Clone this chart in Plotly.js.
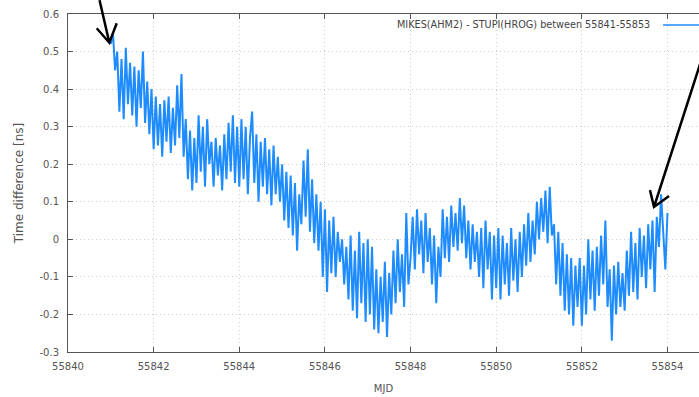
<!DOCTYPE html>
<html>
<head>
<meta charset="utf-8">
<script src="https://cdn.plot.ly/plotly-3.0.1.min.js"></script>
<style>html,body{margin:0;padding:0;background:#fff;}#chart{width:699px;height:397px;}</style>
</head>
<body>
<div id="chart"></div>
<script>
// Time axis (MJD)
const mjd = [
55841.00,55841.05,55841.10,55841.15,55841.20,55841.25,55841.30,55841.35,55841.40,55841.45,55841.50,55841.55,55841.60,55841.65,55841.70,55841.75,55841.80,55841.85,55841.90,55841.95,
55842.00,55842.05,55842.10,55842.15,55842.20,55842.25,55842.30,55842.35,55842.40,55842.45,55842.50,55842.55,55842.60,55842.65,55842.70,55842.75,55842.80,55842.85,55842.90,55842.95,
55843.00,55843.05,55843.10,55843.15,55843.20,55843.25,55843.30,55843.35,55843.40,55843.45,55843.50,55843.55,55843.60,55843.65,55843.70,55843.75,55843.80,55843.85,55843.90,55843.95,
55844.00,55844.05,55844.10,55844.15,55844.20,55844.25,55844.30,55844.35,55844.40,55844.45,55844.50,55844.55,55844.60,55844.65,55844.70,55844.75,55844.80,55844.85,55844.90,55844.95,
55845.00,55845.05,55845.10,55845.15,55845.20,55845.25,55845.30,55845.35,55845.40,55845.45,55845.50,55845.55,55845.60,55845.65,55845.70,55845.75,55845.80,55845.85,55845.90,55845.95,
55846.00,55846.05,55846.10,55846.15,55846.20,55846.25,55846.30,55846.35,55846.40,55846.45,55846.50,55846.55,55846.60,55846.65,55846.70,55846.75,55846.80,55846.85,55846.90,55846.95,
55847.00,55847.05,55847.10,55847.15,55847.20,55847.25,55847.30,55847.35,55847.40,55847.45,55847.50,55847.55,55847.60,55847.65,55847.70,55847.75,55847.80,55847.85,55847.90,55847.95,
55848.00,55848.05,55848.10,55848.15,55848.20,55848.25,55848.30,55848.35,55848.40,55848.45,55848.50,55848.55,55848.60,55848.65,55848.70,55848.75,55848.80,55848.85,55848.90,55848.95,
55849.00,55849.05,55849.10,55849.15,55849.20,55849.25,55849.30,55849.35,55849.40,55849.45,55849.50,55849.55,55849.60,55849.65,55849.70,55849.75,55849.80,55849.85,55849.90,55849.95,
55850.00,55850.05,55850.10,55850.15,55850.20,55850.25,55850.30,55850.35,55850.40,55850.45,55850.50,55850.55,55850.60,55850.65,55850.70,55850.75,55850.80,55850.85,55850.90,55850.95,
55851.00,55851.05,55851.10,55851.15,55851.20,55851.25,55851.30,55851.35,55851.40,55851.45,55851.50,55851.55,55851.60,55851.65,55851.70,55851.75,55851.80,55851.85,55851.90,55851.95,
55852.00,55852.05,55852.10,55852.15,55852.20,55852.25,55852.30,55852.35,55852.40,55852.45,55852.50,55852.55,55852.60,55852.65,55852.70,55852.75,55852.80,55852.85,55852.90,55852.95,
55853.00,55853.05,55853.10,55853.15,55853.20,55853.25,55853.30,55853.35,55853.40,55853.45,55853.50,55853.55,55853.60,55853.65,55853.70,55853.75,55853.80,55853.85,55853.90,55853.95,
55854.00
];
// Time difference [ns]
const timeDiffNs = [
0.52,0.55,0.45,0.50,0.34,0.48,0.32,0.51,0.36,0.47,0.33,0.46,0.30,0.45,0.35,0.50,0.31,0.42,0.28,0.40,
0.24,0.38,0.25,0.36,0.22,0.37,0.26,0.38,0.23,0.35,0.25,0.41,0.27,0.44,0.22,0.32,0.16,0.29,0.13,0.27,
0.15,0.33,0.18,0.30,0.14,0.32,0.20,0.26,0.14,0.27,0.17,0.25,0.13,0.28,0.16,0.31,0.18,0.33,0.15,0.30,
0.14,0.32,0.16,0.30,0.12,0.27,0.34,0.15,0.28,0.10,0.26,0.14,0.27,0.12,0.24,0.09,0.25,0.12,0.22,0.10,
0.20,0.05,0.18,0.03,0.17,0.01,0.15,-0.03,0.12,0.04,0.21,0.06,0.24,0.02,0.16,-0.01,0.12,-0.03,0.10,-0.10,
0.08,-0.14,0.05,-0.09,0.06,-0.10,0.02,-0.06,0.00,-0.12,-0.02,-0.16,0.01,-0.19,-0.03,-0.21,0.02,-0.17,-0.01,-0.22,
0.00,-0.20,-0.02,-0.24,-0.08,-0.25,-0.10,-0.22,-0.06,-0.26,-0.09,-0.20,-0.03,-0.17,0.00,-0.14,-0.04,-0.18,0.07,-0.12,
-0.05,0.06,-0.08,0.08,-0.04,0.05,-0.09,0.07,-0.06,0.03,-0.12,0.01,-0.17,-0.02,-0.10,0.08,-0.05,0.06,-0.06,0.09,
-0.02,0.07,-0.03,0.11,-0.01,0.09,-0.05,0.05,-0.08,0.04,-0.06,0.02,-0.10,0.03,-0.13,0.05,-0.08,0.02,-0.16,0.01,
-0.13,0.03,-0.16,0.01,-0.12,-0.01,-0.15,0.03,-0.11,0.00,-0.14,0.02,-0.10,0.04,-0.07,0.07,-0.06,0.05,-0.04,0.10,
0.00,0.11,0.02,0.13,-0.01,0.14,0.01,0.04,-0.12,0.02,-0.15,-0.01,-0.19,-0.04,-0.20,-0.05,-0.23,-0.07,-0.18,-0.05,
-0.23,-0.07,-0.20,0.00,-0.16,-0.03,-0.19,-0.02,-0.15,0.01,-0.12,0.05,-0.18,-0.08,-0.27,-0.07,-0.20,-0.06,-0.18,-0.09,
-0.19,-0.03,-0.15,0.02,-0.14,-0.01,-0.16,0.03,-0.10,0.01,-0.13,0.04,-0.08,0.05,-0.14,0.06,-0.02,0.12,0.02,-0.08,
0.07
];
const seriesName = "MIKES(AHM2) - STUPI(HROG) between 55841-55853";
const xTicks = [55840, 55842, 55844, 55846, 55848, 55850, 55852, 55854];
const yTicks = [-0.3, -0.2, -0.1, 0, 0.1, 0.2, 0.3, 0.4, 0.5, 0.6];
const yTickText = ["-0.3", "-0.2", "-0.1", "0", "0.1", "0.2", "0.3", "0.4", "0.5", "0.6"];

const blue = "#1e8cff";
const font = "DejaVu Sans, sans-serif";
const trace = {
  x: mjd, y: timeDiffNs, type: "scatter", mode: "lines",
  line: {color: blue, width: 2}, showlegend: false, hoverinfo: "skip"
};
const axisCommon = {
  showline: true, linecolor: "#555", linewidth: 1,
  ticks: "inside", tickcolor: "#555", ticklen: 5,
  showgrid: true, gridcolor: "#cfcfcf", griddash: "1px,3px", gridwidth: 1,
  zeroline: false, tickfont: {family: font, size: 10, color: "#555"}
};
const layout = {
  width: 699, height: 397,
  margin: {l: 68, r: 0, t: 14, b: 45},
  paper_bgcolor: "#fff", plot_bgcolor: "#fff",
  xaxis: Object.assign({}, axisCommon, {
    range: [55840, 55854.736], tickvals: xTicks, ticktext: xTicks.map(String),
    mirror: "ticks", ticklabelstandoff: 5,
    title: {text: "MJD", font: {family: font, size: 10, color: "#555"}, standoff: 13}
  }),
  yaxis: Object.assign({}, axisCommon, {
    range: [-0.3, 0.6], tickvals: yTicks, ticktext: yTickText,
    ticklabelstandoff: 6,
    title: {text: "Time difference [ns]", font: {family: font, size: 12, color: "#555"}, standoff: 13}
  }),
  annotations: [{
    xref: "paper", yref: "paper", x: 0.9255, y: 0.9675, xanchor: "right", yanchor: "middle",
    text: seriesName, showarrow: false, font: {family: font, size: 9.7, color: "#444"}
  }],
  shapes: [
    {type: "line", xref: "paper", yref: "paper", x0: 0.943, x1: 1.0, y0: 0.9675, y1: 0.9675,
     line: {color: blue, width: 1.5}},
    {type: "path", xref: "paper", yref: "paper", layer: "above",
     path: "M 0.0500 1.041 L 0.0655 0.915 M 0.0455 0.9577 L 0.0655 0.915 L 0.0772 0.9725",
     line: {color: "#000", width: 2.5}},
    {type: "path", xref: "paper", yref: "paper", layer: "above",
     path: "M 1.0048 0.870 L 0.9287 0.429 M 0.9223 0.479 L 0.9287 0.429 L 0.9525 0.4615",
     line: {color: "#000", width: 2.5}}
  ]
};
Plotly.newPlot("chart", [trace], layout, {staticPlot: true, displayModeBar: false});
</script>
</body>
</html>
